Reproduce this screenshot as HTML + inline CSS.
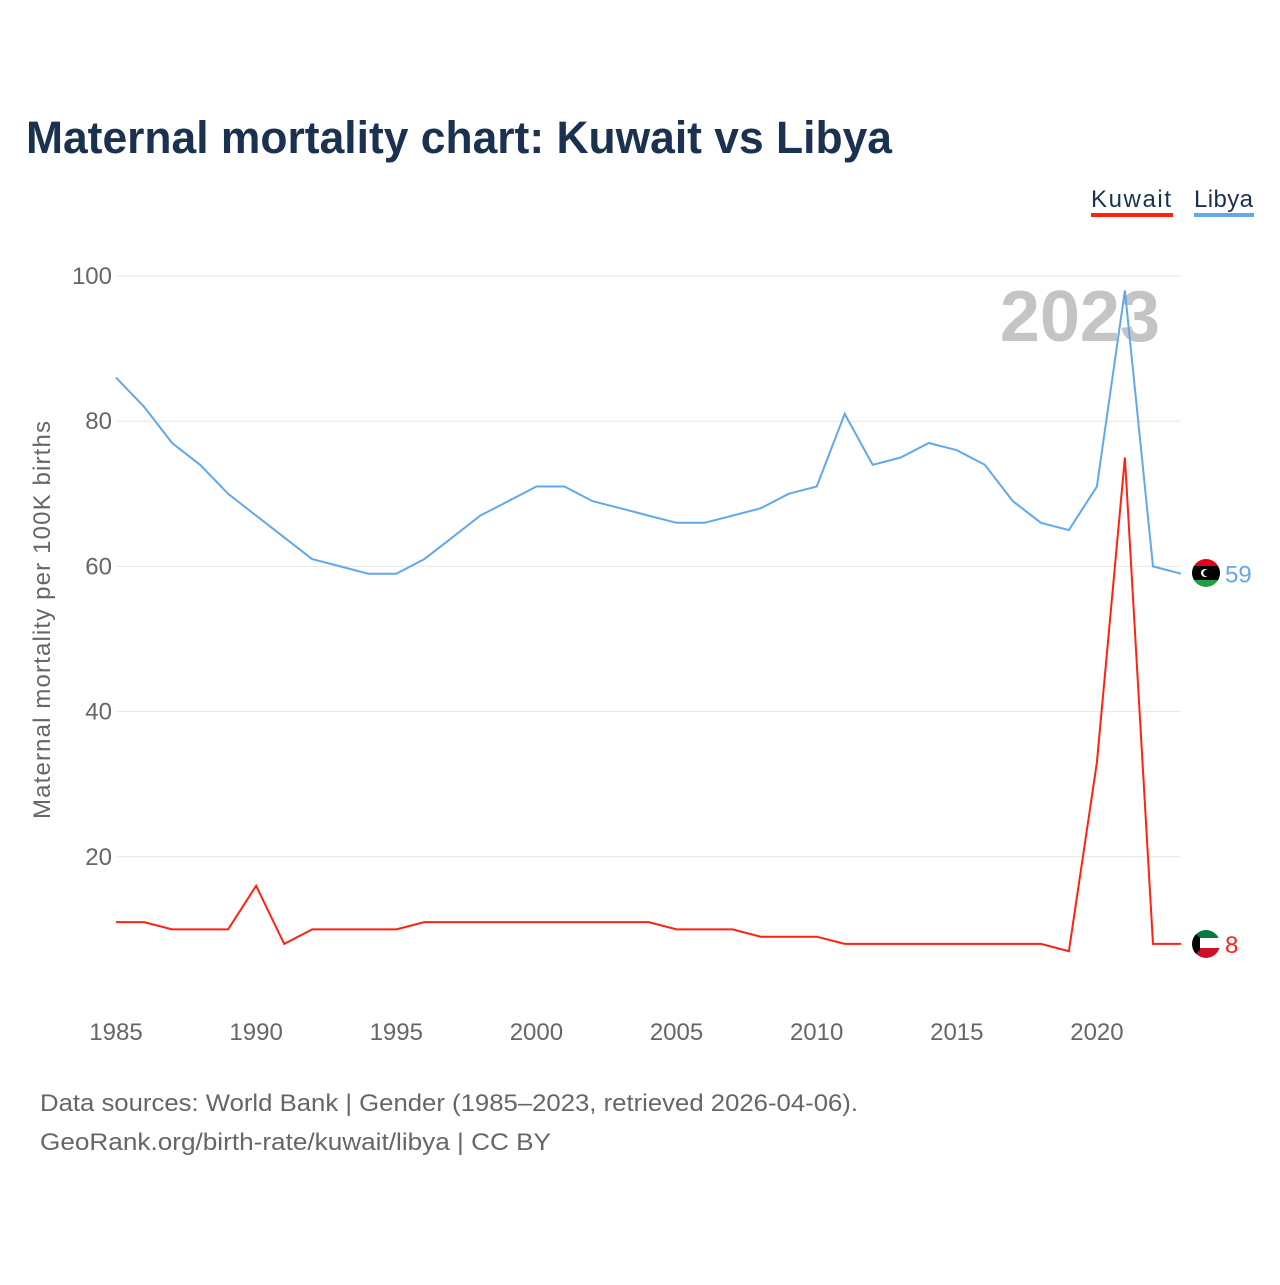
<!DOCTYPE html>
<html><head><meta charset="utf-8"><style>
body{margin:0;background:#fff;font-family:"Liberation Sans",sans-serif;}
svg text{font-family:"Liberation Sans",sans-serif;}
</style></head><body>
<svg id="chart" width="1280" height="1280" viewBox="0 0 1280 1280">
<defs>
<clipPath id="flagclipL"><circle cx="1206" cy="573" r="14"/></clipPath>
<clipPath id="flagclipK"><circle cx="1206" cy="944" r="14"/></clipPath>
</defs>
<text x="26" y="153" font-size="45" font-weight="bold" fill="#1b3150" textLength="866" lengthAdjust="spacingAndGlyphs">Maternal mortality chart: Kuwait vs Libya</text>
<g>
<text x="1091" y="207" font-size="24" fill="#1b3150" textLength="80">Kuwait</text>
<rect x="1091" y="213" width="82" height="4" fill="#f21"/>
<text x="1194" y="207" font-size="24" fill="#1b3150" textLength="59">Libya</text>
<rect x="1194" y="213" width="60" height="4" fill="#62a8ea"/>
</g>
<g id="grid"></g>
<g id="yticks"></g>
<g id="xticks"></g>
<text x="1160" y="341" font-size="72" font-weight="bold" fill="#c4c4c4" text-anchor="end">2023</text>
<text transform="translate(50,620) rotate(-90)" font-size="24" fill="#666" text-anchor="middle" textLength="398">Maternal mortality per 100K births</text>
<g id="series"></g>
<g clip-path="url(#flagclipL)">
<rect x="1190" y="557" width="32" height="9" fill="#e70013"/>
<rect x="1190" y="566" width="32" height="14" fill="#000"/>
<rect x="1190" y="580" width="32" height="10" fill="#239e46"/>
<circle cx="1205" cy="573" r="4" fill="#fff"/><circle cx="1206.5" cy="573" r="3.2" fill="#000"/>
</g>
<g clip-path="url(#flagclipK)">
<rect x="1190" y="928" width="32" height="10" fill="#007a3d"/>
<rect x="1190" y="938" width="32" height="10" fill="#fff"/>
<rect x="1190" y="948" width="32" height="12" fill="#ce1126"/>
<polygon points="1190,928 1200,938 1200,950 1190,960" fill="#000"/>
</g>
<text x="40" y="1111" font-size="24" fill="#666" textLength="818" lengthAdjust="spacingAndGlyphs">Data sources: World Bank | Gender (1985–2023, retrieved 2026-04-06).</text>
<text x="40" y="1150" font-size="24" fill="#666" textLength="511" lengthAdjust="spacingAndGlyphs">GeoRank.org/birth-rate/kuwait/libya | CC BY</text>
</svg>
<script>
const years = [];
for (let y = 1985; y <= 2023; y++) years.push(y);
const libya = [86,82,77,74,70,67,64,61,60,59,59,61,64,67,69,71,71,69,68,67,66,66,67,68,70,71,81,74,75,77,76,74,69,66,65,71,98,60,59];
const kuwait = [11,11,10,10,10,16,8,10,10,10,10,11,11,11,11,11,11,11,11,11,10,10,10,9,9,9,8,8,8,8,8,8,8,8,7,33,75,8,8];
const yTicks = [20,40,60,80,100];
const xTicks = [1985,1990,1995,2000,2005,2010,2015,2020];
const NS = "http://www.w3.org/2000/svg";
const xS = v => 116 + (v - 1985) * (1181 - 116) / 38;
const yS = v => 1002 - v * 7.26;
function mk(tag, attrs, parent){const e=document.createElementNS(NS,tag);for(const k in attrs)e.setAttribute(k,attrs[k]);parent.appendChild(e);return e;}
const grid=document.getElementById('grid'), yt=document.getElementById('yticks'), xt=document.getElementById('xticks'), ser=document.getElementById('series');
yTicks.forEach(v=>{
  const l=mk('line',{x1:116,x2:1181,y1:yS(v),y2:yS(v),stroke:'#e6e6e6','stroke-width':1},grid);
  
  
  const t=mk('text',{x:112,y:yS(v)+8,'font-size':24,fill:'#666','text-anchor':'end'},yt);
  t.textContent=v;
  
  
});
xTicks.forEach(v=>{
  const t=mk('text',{x:xS(v),y:1040,'font-size':24,fill:'#666','text-anchor':'middle'},xt);
  t.textContent=v;
  
  
});
function line(vals,color,name){
  const d=vals.map((v,i)=>(i?'L':'M')+xS(years[i]).toFixed(1)+','+yS(v).toFixed(1)).join('');
  const p=mk('path',{d:d,fill:'none',stroke:color,'stroke-width':2},ser);
  
  
  const last=vals[vals.length-1];
  const ly=yS(last);
  const t=mk('text',{x:1225,y:ly+9,'font-size':24,fill:color},ser);
  t.textContent=last;
  
  
}
line(libya,'#62a8ea','libya-line');
line(kuwait,'#f21','kuwait-line');
</script>
</body></html>
